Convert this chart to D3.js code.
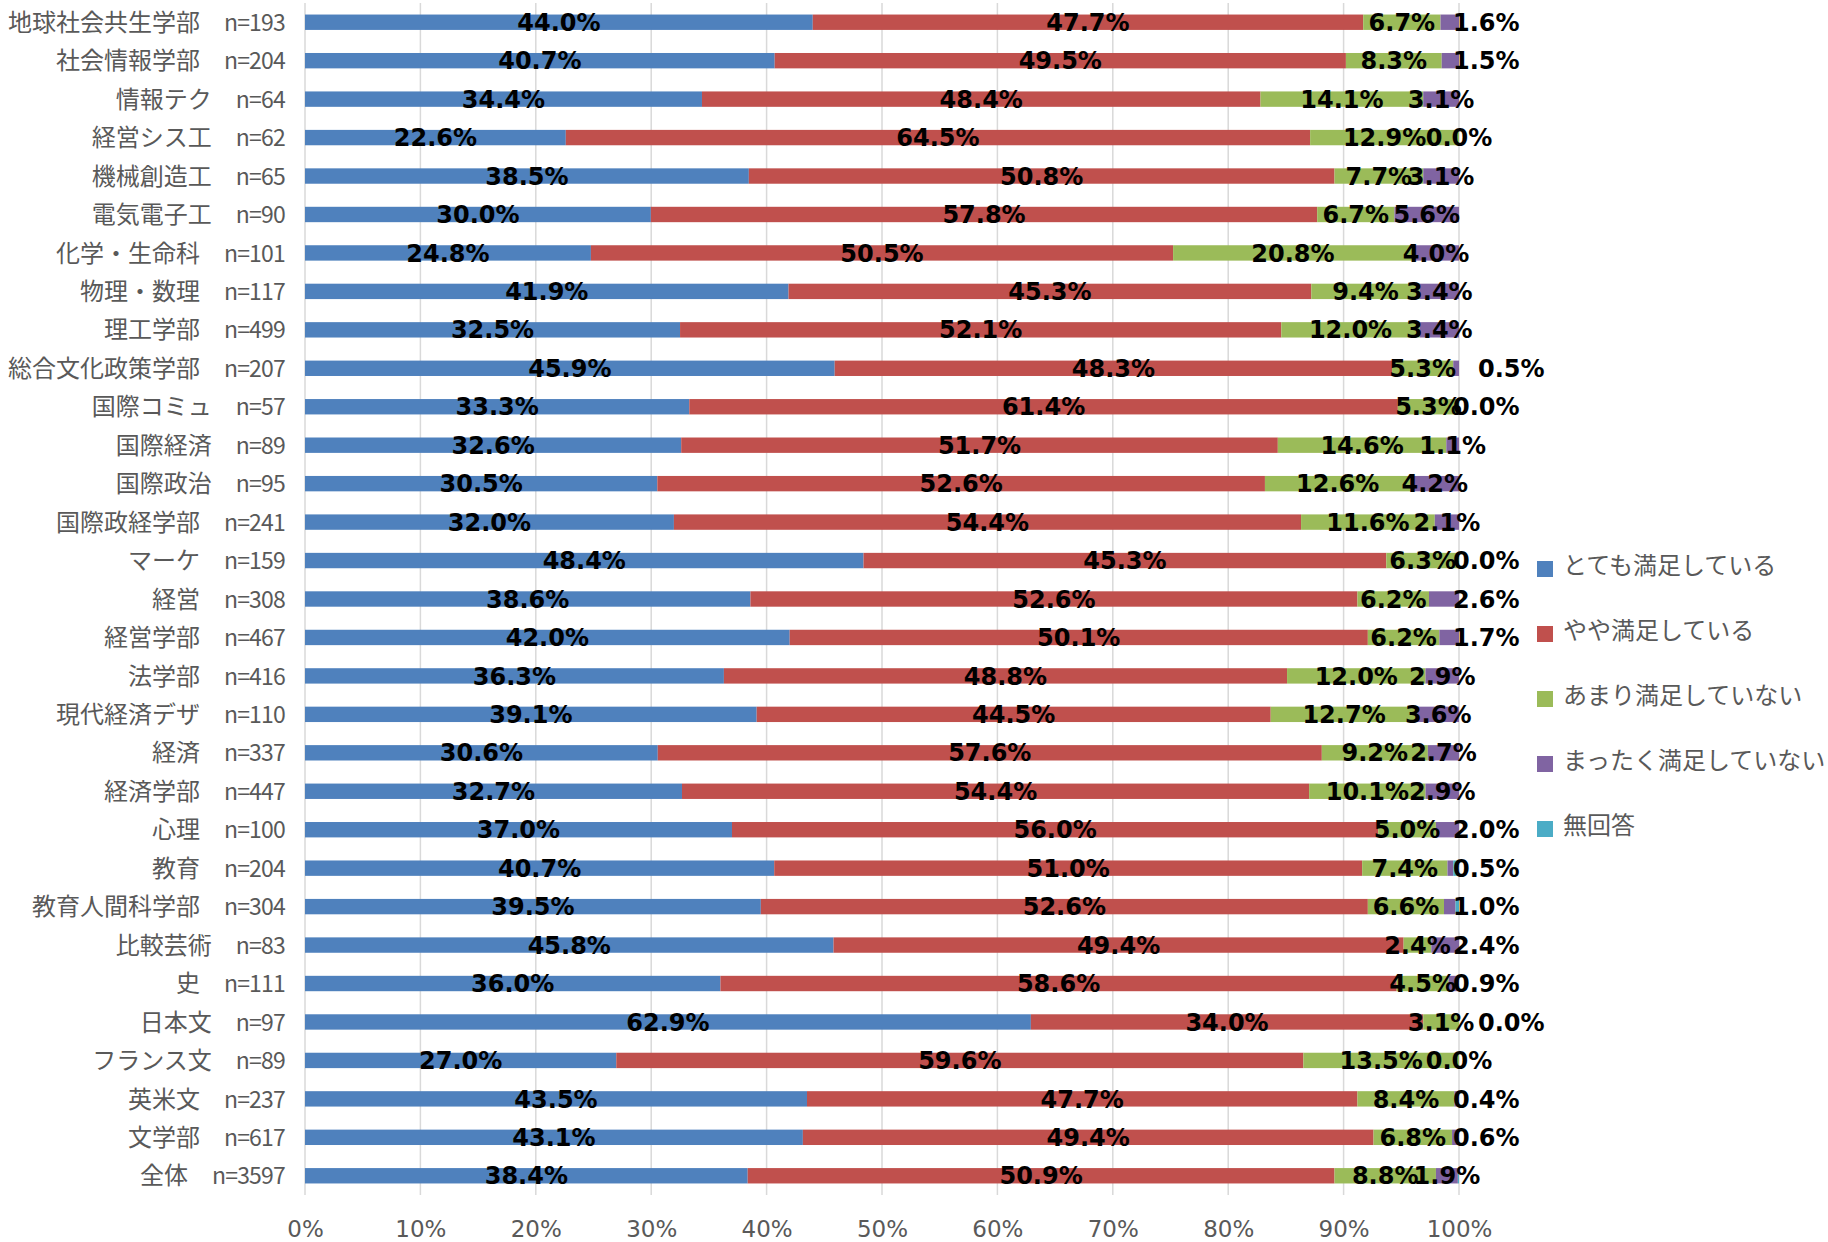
<!DOCTYPE html>
<html>
<head>
<meta charset="utf-8">
<script src="https://cdn.jsdelivr.net/npm/d3@7/dist/d3.min.js"></script>
<style>
  body { margin: 0; background: #fff; }
  text { font-family: "Noto Sans CJK JP", "Noto Sans", sans-serif; }
</style>
</head>
<body>
<script>
// categories (top to bottom) and sample sizes
var categories = ["地球社会共生学部", "社会情報学部", "情報テク", "経営シス工", "機械創造工", "電気電子工",
  "化学・生命科", "物理・数理", "理工学部", "総合文化政策学部", "国際コミュ", "国際経済", "国際政治",
  "国際政経学部", "マーケ", "経営", "経営学部", "法学部", "現代経済デザ", "経済", "経済学部", "心理",
  "教育", "教育人間科学部", "比較芸術", "史", "日本文", "フランス文", "英米文", "文学部", "全体"];
var sampleSizes = [193, 204, 64, 62, 65, 90, 101, 117, 499, 207, 57, 89, 95, 241, 159, 308, 467, 416,
  110, 337, 447, 100, 204, 304, 83, 111, 97, 89, 237, 617, 3597];

// series values (%)
var verySatisfied = [44.0, 40.7, 34.4, 22.6, 38.5, 30.0, 24.8, 41.9, 32.5, 45.9, 33.3, 32.6, 30.5, 32.0,
  48.4, 38.6, 42.0, 36.3, 39.1, 30.6, 32.7, 37.0, 40.7, 39.5, 45.8, 36.0, 62.9, 27.0, 43.5, 43.1, 38.4];
var somewhatSatisfied = [47.7, 49.5, 48.4, 64.5, 50.8, 57.8, 50.5, 45.3, 52.1, 48.3, 61.4, 51.7, 52.6, 54.4,
  45.3, 52.6, 50.1, 48.8, 44.5, 57.6, 54.4, 56.0, 51.0, 52.6, 49.4, 58.6, 34.0, 59.6, 47.7, 49.4, 50.9];
var notVerySatisfied = [6.7, 8.3, 14.1, 12.9, 7.7, 6.7, 20.8, 9.4, 12.0, 5.3, 5.3, 14.6, 12.6, 11.6,
  6.3, 6.2, 6.2, 12.0, 12.7, 9.2, 10.1, 5.0, 7.4, 6.6, 2.4, 4.5, 3.1, 13.5, 8.4, 6.8, 8.8];
var notAtAllSatisfied = [1.6, 1.5, 3.1, 0.0, 3.1, 5.6, 4.0, 3.4, 3.4, 0.5, 0.0, 1.1, 4.2, 2.1,
  0.0, 2.6, 1.7, 2.9, 3.6, 2.7, 2.9, 2.0, 0.5, 1.0, 2.4, 0.9, 0.0, 0.0, 0.4, 0.6, 1.9];
var noAnswer = [0, 0, 0, 0, 0, 0, 0, 0, 0, 0, 0, 0, 0, 0,
  0, 0, 0, 0, 0, 0, 0, 0, 0.5, 0.3, 0, 0, 0, 0, 0, 0, 0.1];

var seriesNames = ["とても満足している", "やや満足している", "あまり満足していない", "まったく満足していない", "無回答"];
var seriesValues = [verySatisfied, somewhatSatisfied, notVerySatisfied, notAtAllSatisfied, noAnswer];
var colors = ["#4F81BD", "#C0504D", "#9BBB59", "#8064A2", "#4BACC6"];
var xTicks = [0, 0.1, 0.2, 0.3, 0.4, 0.5, 0.6, 0.7, 0.8, 0.9, 1];

// rows whose last label was dragged out past the bar end
var pushedLabels = ["地球社会共生学部", "社会情報学部", "国際コミュ", "マーケ", "経営", "経営学部", "心理",
  "教育", "教育人間科学部", "比較芸術", "史", "英米文", "文学部"];
var farPushedLabels = ["総合文化政策学部", "日本文"];

var margin = {top: 3, right: 369, bottom: 47, left: 305},
    width = 1828 - margin.left - margin.right,
    height = 1242 - margin.top - margin.bottom;

var rows = categories.map(function(c, i) {
  var r = {cat: c};
  seriesNames.forEach(function(s, j) { r[s] = seriesValues[j][i]; });
  return r;
});

// 100% stacked
var stack = d3.stack().keys(seriesNames).offset(d3.stackOffsetExpand);
var layers = stack(rows);

var x = d3.scaleLinear().domain([0, 1]).range([0, width]);
var y = d3.scaleBand().domain(categories).range([0, height]).paddingInner(0.6).paddingOuter(0.3);

var svg = d3.select("body").append("svg")
    .attr("width", 1828)
    .attr("height", 1242)
  .append("g")
    .attr("transform", "translate(" + margin.left + "," + margin.top + ")");

// grid lines
svg.selectAll(".grid")
    .data(xTicks)
  .enter().append("line")
    .attr("x1", function(d) { return x(d); })
    .attr("x2", function(d) { return x(d); })
    .attr("y1", 0)
    .attr("y2", height)
    .attr("stroke", "#D9D9D9")
    .attr("stroke-width", 1.5);

// bars
var layer = svg.selectAll(".layer")
    .data(layers)
  .enter().append("g")
    .attr("fill", function(d, i) { return colors[i]; });

layer.selectAll("rect")
    .data(function(d) { return d; })
  .enter().append("rect")
    .attr("x", function(d) { return x(d[0]); })
    .attr("y", function(d) { return y(d.data.cat); })
    .attr("width", function(d) { return x(d[1]) - x(d[0]); })
    .attr("height", y.bandwidth());

function isPushed(c) { return pushedLabels.indexOf(c) >= 0 || farPushedLabels.indexOf(c) >= 0; }

// value labels (first four series)
layers.slice(0, 4).forEach(function(l, si) {
  svg.append("g").selectAll("text")
      .data(l)
    .enter().append("text")
      .attr("x", function(d) {
        var c = d.data.cat;
        if (si === 3 && farPushedLabels.indexOf(c) >= 0) return x(1) + 19;
        if (si === 3 && pushedLabels.indexOf(c) >= 0) return x(1) - 6;
        return x((d[0] + d[1]) / 2);
      })
      .attr("y", function(d) { return y(d.data.cat) + y.bandwidth() / 2; })
      .attr("dy", "0.36em")
      .attr("text-anchor", function(d) { return (si === 3 && isPushed(d.data.cat)) ? "start" : "middle"; })
      .style("font-family", "'DejaVu Sans', Verdana, sans-serif")
      .style("font-weight", "bold")
      .style("font-size", "24px")
      .attr("fill", "#000")
      .text(function(d) { return d.data[seriesNames[si]].toFixed(1) + "%"; });
});

// y axis
var yAxis = svg.append("g")
    .call(d3.axisLeft(y).tickSize(0).tickPadding(20).tickFormat(""));
yAxis.select(".domain").remove();
var yText = yAxis.selectAll(".tick text")
    .style("font-size", "24px")
    .attr("dy", "0.36em")
    .attr("fill", "#595959");
yText.append("tspan")
    .text(function(d) { return d + "\u3000"; });
yText.append("tspan")
    .style("font-size", "23px")
    .style("letter-spacing", "-0.8px")
    .text(function(d, i) { return "n=" + sampleSizes[i]; });

// x axis
var xAxis = svg.append("g")
    .attr("transform", "translate(0," + height + ")")
    .call(d3.axisBottom(x).tickValues(xTicks).tickSize(0).tickPadding(26).tickFormat(d3.format(".0%")));
xAxis.select(".domain").remove();
xAxis.selectAll("text")
    .style("font-family", "'DejaVu Sans', sans-serif")
    .style("font-size", "23px")
    .attr("fill", "#595959");

// legend
var legend = d3.select("svg").append("g")
    .attr("transform", "translate(1537,561)");

var item = legend.selectAll("g")
    .data(seriesNames)
  .enter().append("g")
    .attr("transform", function(d, i) { return "translate(0," + (i * 65) + ")"; });

item.append("rect")
    .attr("width", 16)
    .attr("height", 16)
    .attr("fill", function(d, i) { return colors[i]; });

item.append("text")
    .attr("x", 26)
    .attr("y", 4)
    .attr("dy", "0.36em")
    .style("font-size", "24px")
    .attr("fill", "#595959")
    .text(function(d) { return d; });
</script>
</body>
</html>
